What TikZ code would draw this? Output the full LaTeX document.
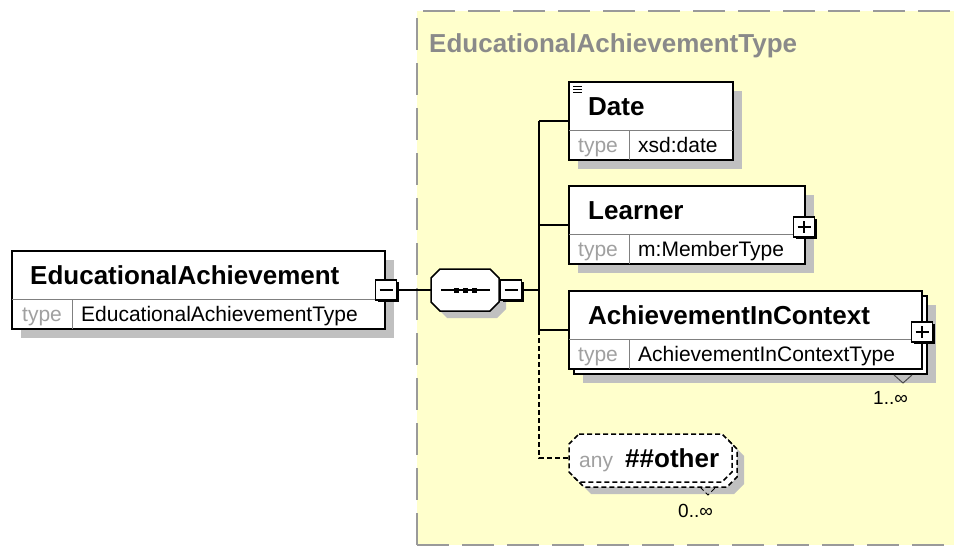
\documentclass[tikz,border=0pt]{standalone}
\usepackage{fontspec}
\setmainfont{Liberation Sans}
\definecolor{bgyel}{HTML}{FFFFCC}
\definecolor{shgray}{HTML}{C0C0C0}
\definecolor{bordgray}{HTML}{9A9A9A}
\definecolor{ttlgray}{HTML}{8A8A8A}
\definecolor{typegray}{HTML}{A0A0A0}
\definecolor{divgray}{HTML}{808080}
\newcommand\fb{\bfseries\fontsize{26}{30}\selectfont}
\newcommand\fr{\fontsize{21}{25}\selectfont}
\newcommand\fm{\fontsize{19}{23}\selectfont}
\begin{document}
\begin{tikzpicture}[x=1pt,y=-1pt,
  ebox/.style={draw=black,line width=1.6pt,fill=white,inner sep=0pt,outer sep=0pt},
  shd/.style={preaction={fill=shgray,transform canvas={shift={(9pt,-9pt)}}}},
  divl/.style={draw=divgray,line width=1pt},
  conn/.style={draw=black,line width=1.5pt},
  tx/.style={inner sep=0pt,anchor=base west},
  anc/.style={inner sep=0pt,outer sep=0pt},
  btn/.style={draw=black,line width=1.4pt,fill=white,minimum width=21pt,minimum height=20pt,inner sep=0pt,outer sep=0pt,
     preaction={fill=black,transform canvas={shift={(2pt,-2pt)}}}},
  minusb/.style={btn,path picture={\draw[line width=1.3pt] ([xshift=4pt]path picture bounding box.west) -- ([xshift=-4pt]path picture bounding box.east);}},
  plusb/.style={btn,path picture={\draw[line width=1.3pt] ([xshift=4pt]path picture bounding box.west) -- ([xshift=-4pt]path picture bounding box.east);
     \draw[line width=1.3pt] ([yshift=-4pt]path picture bounding box.north) -- ([yshift=4pt]path picture bounding box.south);}},
  dsh/.style={dash pattern=on 5pt off 3pt}
]
\useasboundingbox (0,0) rectangle (954,546);
\clip (0,0) rectangle (954,546);
\fill[white] (0,0) rectangle (954,546);

% complex type area
\fill[bgyel] (417,11) rectangle (970,545);
\draw[bordgray,line width=2.5pt,dash pattern=on 32pt off 13pt] (417,545) -- (417,11) -- (970,11);
\draw[bordgray,line width=2.5pt,dash pattern=on 32pt off 13pt] (417,545) -- (970,545);
\node[tx,text=ttlgray] (ttl) at (429,52.5) {\fb EducationalAchievementType};

% main element
\node[ebox,shd,minimum width=373pt,minimum height=78pt] (main) at (198.5,290) {};
\draw[divl] (12,299) -- (385,299);
\draw[divl] (72,299) -- (72,329);
\node[tx] (mainn) at (30,284.5) {\fb EducationalAchievement};
\node[tx,text=typegray] (maint) at (22,321.5) {\fr type};
\node[tx] (mainv) at (81,321.5) {\fr EducationalAchievementType};
\node[minusb] (mm) at (386,290) {};

% sequence compositor
\fill[shgray] (447,276)--(497,276)--(506,285)--(506,309)--(497,318)--(447,318)--(438,309)--(438,285)--cycle;
\draw[black,line width=1.5pt,fill=white] (440,269)--(490,269)--(499,278)--(499,302)--(490,311)--(440,311)--(431,302)--(431,278)--cycle;
\node[anc,minimum width=68pt,minimum height=42pt] (seq) at (465,290) {};
\draw[line width=1.5pt] (441,290) -- (490,290);
\fill (453.5,287.5) rectangle +(5,5);
\fill (462.5,287.5) rectangle +(5,5);
\fill (471.5,287.5) rectangle +(5,5);
\node[minusb] (sm) at (511,290) {};

\coordinate (tx) at (539,0);

% Date
\node[ebox,shd,minimum width=164pt,minimum height=78pt] (date) at (651,121) {};
\draw[divl] (569,130) -- (733,130);
\draw[divl] (629,130) -- (629,160);
\draw[line width=1pt] (573,86) -- (582,86) (573,89) -- (582,89) (573,92) -- (582,92);
\node[tx] (daten) at (588,115.5) {\fb Date};
\node[tx,text=typegray] (datet) at (578,152.5) {\fr type};
\node[tx] (datev) at (638,152.5) {\fr xsd:date};

% Learner
\node[ebox,shd,minimum width=236pt,minimum height=78pt] (lrn) at (687,225) {};
\draw[divl] (569,234) -- (805,234);
\draw[divl] (629,234) -- (629,264);
\node[tx] (lrnn) at (588,219.5) {\fb Learner};
\node[tx,text=typegray] (lrnt) at (578,256.5) {\fr type};
\node[tx] (lrnv) at (638,256.5) {\fr m:MemberType};
\node[plusb] (lp) at (804,227) {};

% AchievementInContext
\node[ebox,shd,minimum width=353pt,minimum height=78pt] (aicb) at (750.5,335) {};
\node[ebox,minimum width=353pt,minimum height=78pt] (aic) at (745.5,330) {};
\draw[divl] (569,339) -- (922,339);
\draw[divl] (629,339) -- (629,369);
\node[tx] (aicn) at (588,324.5) {\fb AchievementInContext};
\node[tx,text=typegray] (aict) at (578,361.5) {\fr type};
\node[tx] (aicv) at (638,361.5) {\fr AchievementInContextType};
\node[plusb] (ap) at (922,332) {};
\draw[black!70,line width=1pt] (894,375) -- (903,383) -- (912,375);
\node[tx] (aicm) at (873,404) {\fm 1..∞};

% any ##other
\fill[shgray] (591,446)--(734,446)--(744,456)--(744,484)--(734,494)--(591,494)--(581,484)--(581,456)--cycle;
\draw[black,line width=1.5pt,dsh,fill=white] (584,439)--(727,439)--(737,449)--(737,477)--(727,487)--(584,487)--(574,477)--(574,449)--cycle;
\draw[black,line width=1.5pt,dsh,fill=white] (579,434)--(722,434)--(732,444)--(732,472)--(722,482)--(579,482)--(569,472)--(569,444)--cycle;
\node[anc,minimum width=163pt,minimum height=48pt] (any) at (650.5,458) {};
\node[tx,text=typegray] (anyt) at (579,467.5) {\fr any};
\node[tx] (anyn) at (625,467.5) {\fb \#\#other};
\draw[black,line width=1pt,dsh] (700,487) -- (708,495) -- (716,487);
\node[tx] (anym) at (678,517) {\fm 0..∞};

% connectors
\draw[conn] (mm.east) -- (seq.west);
\draw[conn] (sm.east) -- (sm.east -| tx);
\draw[conn] (date.west -| tx) -- (aic.west -| tx);
\draw[conn] (date.west -| tx) -- (date.west);
\draw[conn] (lrn.west -| tx) -- (lrn.west);
\draw[conn] (aic.west -| tx) -- (aic.west);
\draw[conn,dsh] (aic.west -| tx) |- (any.west);
\end{tikzpicture}
\end{document}
